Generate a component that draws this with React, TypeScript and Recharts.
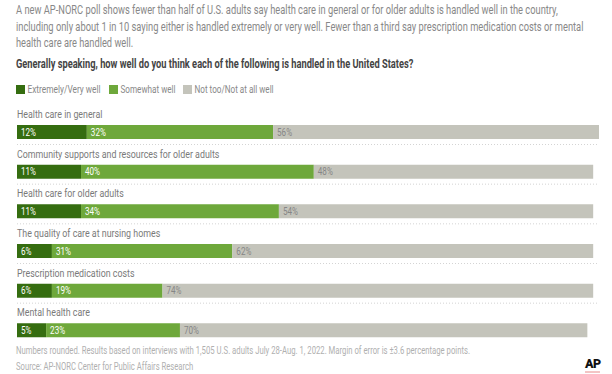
import React, { useLayoutEffect, useRef, useState } from "react";
import { BarChart, Bar, XAxis, YAxis, LabelList } from "recharts";

const categories = [
  "Health care in general",
  "Community supports and resources for older adults",
  "Health care for older adults",
  "The quality of care at nursing homes",
  "Prescription medication costs",
  "Mental health care",
];
const veryWell = [12, 11, 11, 6, 6, 5];
const somewhatWell = [32, 40, 34, 31, 19, 23];
const notWell = [56, 48, 54, 62, 74, 70];

const SERIES = [
  { key: "very", name: "Extremely/Very well", color: "#356d10", text: "#ffffff" },
  { key: "some", name: "Somewhat well", color: "#6ea83b", text: "#ffffff" },
  { key: "not", name: "Not too/Not at all well", color: "#c4c4bb", text: "#868686" },
];

const data = categories.map((c, i) => ({
  name: c,
  very: veryWell[i],
  some: somewhatWell[i],
  not: notWell[i],
}));

const FONT = "Roboto, sans-serif";
const SQUEEZE = 0.77;

// narrow text (the original uses a condensed face)
function Narrow(props: any) {
  const { x, y, size, fill, weight, children } = props;
  return (
    <text
      transform={`translate(${x},${y}) scale(${SQUEEZE},1)`}
      fontSize={size}
      fill={fill}
      fontWeight={weight || 400}
      fontFamily={FONT}
    >
      {children}
    </text>
  );
}

// squeeze a text to a given width, measured after layout
function Fit(props: any) {
  const { x, y, w, size, fill, weight, children } = props;
  const ref = useRef<SVGTextElement>(null);
  const [k, setK] = useState(SQUEEZE);
  useLayoutEffect(() => {
    if (ref.current) {
      const len = ref.current.getComputedTextLength();
      if (len > 0) setK(w / len);
    }
  }, [w]);
  return (
    <text
      ref={ref}
      transform={`translate(${x},${y}) scale(${k},1)`}
      fontSize={size}
      fill={fill}
      fontWeight={weight || 400}
      fontFamily={FONT}
    >
      {children}
    </text>
  );
}

function categoryLabel(p: any) {
  const { y, height, value, index } = p;
  return (
    <g>
      <Narrow x={17} y={y - 7} size={11.5} fill="#7a7a7a">
        {value}
      </Narrow>
      {index < categories.length - 1 && (
        <line x1={17} x2={599} y1={y + height + 5.5} y2={y + height + 5.5} stroke="#d4d4d4" strokeDasharray="1 2" />
      )}
    </g>
  );
}

function valueLabel(color: string) {
  return (p: any) => {
    const { x, y, height, value } = p;
    return (
      <Narrow x={x + 4} y={y + height / 2 + 3.7} size={10.5} fill={color}>
        {value}%
      </Narrow>
    );
  };
}

export default function App() {
  return (
    <div style={{ position: "absolute", left: 0, top: 0, width: 612, height: 374, background: "#fff", overflow: "hidden" }}>
      <div style={{ position: "absolute", left: 0, top: 0 }}>
        <BarChart
          width={612}
          height={374}
          data={data}
          layout="vertical"
          margin={{ top: 112, right: 13, bottom: 24, left: 17 }}
          barSize={14}
        >
          <XAxis type="number" domain={[0, 100]} hide />
          <YAxis type="category" dataKey="name" hide />
          {SERIES.map((s, i) => (
            <Bar key={s.key} dataKey={s.key} stackId="a" fill={s.color} isAnimationActive={false}>
              <LabelList dataKey={s.key} content={valueLabel(s.text)} />
              {i === 0 && <LabelList dataKey="name" content={categoryLabel} />}
            </Bar>
          ))}
        </BarChart>
      </div>
      <svg width={612} height={374} style={{ position: "absolute", left: 0, top: 0 }}>
        <Fit x={16} y={14} w={541} size={12} fill="#888">
          A new AP-NORC poll shows fewer than half of U.S. adults say health care in general or for older adults is handled well in the country,
        </Fit>
        <Fit x={16} y={30.5} w={567} size={12} fill="#888">
          including only about 1 in 10 saying either is handled extremely or very well. Fewer than a third say prescription medication costs or mental
        </Fit>
        <Fit x={16} y={47} w={117} size={12} fill="#888">
          health care are handled well.
        </Fit>
        <Fit x={16} y={68} w={397} size={12} fill="#444" weight={700}>
          Generally speaking, how well do you think each of the following is handled in the United States?
        </Fit>
        {/* legend */}
        <rect x={16} y={85} width={9} height={9} fill={SERIES[0].color} />
        <Fit x={27.5} y={93} w={73} size={11} fill="#888">
          {SERIES[0].name}
        </Fit>
        <rect x={109} y={85} width={9} height={9} fill={SERIES[1].color} />
        <Fit x={120.5} y={93} w={55} size={11} fill="#888">
          {SERIES[1].name}
        </Fit>
        <rect x={183} y={85} width={9} height={9} fill={SERIES[2].color} />
        <Fit x={194.5} y={93} w={79} size={11} fill="#888">
          {SERIES[2].name}
        </Fit>
        {/* notes */}
        <Fit x={16} y={354} w={454} size={10} fill="#b0b0b0">
          Numbers rounded. Results based on interviews with 1,505 U.S. adults July 28-Aug. 1, 2022. Margin of error is ±3.6 percentage points.
        </Fit>
        <Fit x={16} y={370} w={177} size={10} fill="#b0b0b0">
          Source: AP-NORC Center for Public Affairs Research
        </Fit>
        <text x={585} y={368} fontSize={12.5} fontWeight={900} fill="#111" fontFamily={FONT} letterSpacing={-0.6}>
          AP
        </text>
        <line x1={585} x2={600} y1={372} y2={372} stroke="#e88a8a" strokeWidth={1} />
      </svg>
    </div>
  );
}
